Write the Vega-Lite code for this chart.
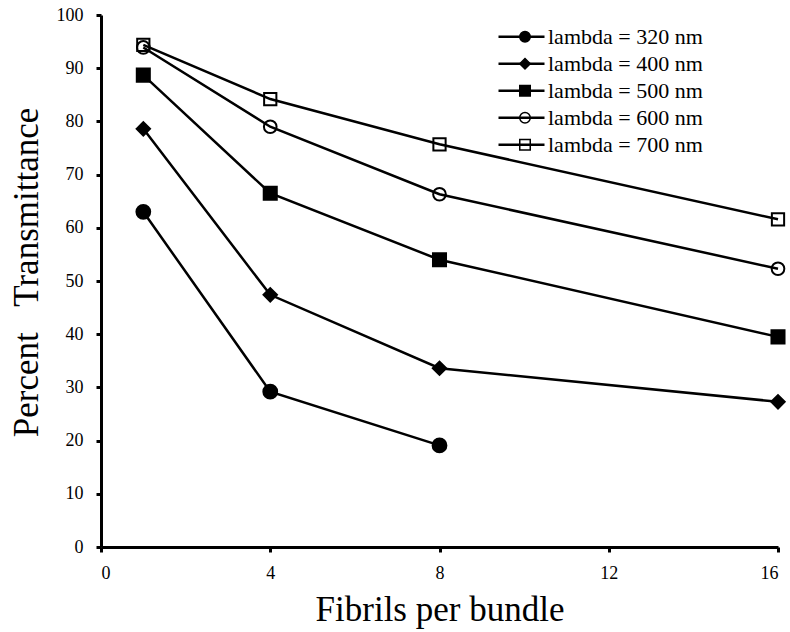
{
  "$schema": "https://vega.github.io/schema/vega-lite/v6.json",
  "width": 677,
  "height": 532,
  "autosize": "none",
  "padding": {"left": 101, "top": 15, "right": 12, "bottom": 85},
  "background": "white",
  "config": {
    "view": {"stroke": null},
    "font": "Liberation Serif",
    "axis": {
      "domainColor": "black",
      "domainWidth": 3,
      "tickColor": "black",
      "tickWidth": 3,
      "tickSize": 5,
      "grid": false,
      "labelFont": "Liberation Serif",
      "labelFontSize": 18,
      "labelColor": "black",
      "titleFont": "Liberation Serif",
      "titleFontSize": 35,
      "titleFontWeight": "normal",
      "titleColor": "black"
    },
    "legend": {
      "labelFont": "Liberation Serif",
      "labelColor": "black",
      "padding": 0
    }
  },
  "data": {
    "values": [
      {"fibrils": 1, "T": 63.0, "series": "lambda = 320 nm", "nm": 320},
      {"fibrils": 4, "T": 29.2, "series": "lambda = 320 nm", "nm": 320},
      {"fibrils": 8, "T": 19.1, "series": "lambda = 320 nm", "nm": 320},
      {"fibrils": 1, "T": 78.6, "series": "lambda = 400 nm", "nm": 400},
      {"fibrils": 4, "T": 47.4, "series": "lambda = 400 nm", "nm": 400},
      {"fibrils": 8, "T": 33.6, "series": "lambda = 400 nm", "nm": 400},
      {"fibrils": 16, "T": 27.3, "series": "lambda = 400 nm", "nm": 400},
      {"fibrils": 1, "T": 88.7, "series": "lambda = 500 nm", "nm": 500},
      {"fibrils": 4, "T": 66.5, "series": "lambda = 500 nm", "nm": 500},
      {"fibrils": 8, "T": 54.0, "series": "lambda = 500 nm", "nm": 500},
      {"fibrils": 16, "T": 39.5, "series": "lambda = 500 nm", "nm": 500},
      {"fibrils": 1, "T": 93.9, "series": "lambda = 600 nm", "nm": 600},
      {"fibrils": 4, "T": 79.0, "series": "lambda = 600 nm", "nm": 600},
      {"fibrils": 8, "T": 66.3, "series": "lambda = 600 nm", "nm": 600},
      {"fibrils": 16, "T": 52.3, "series": "lambda = 600 nm", "nm": 600},
      {"fibrils": 1, "T": 94.4, "series": "lambda = 700 nm", "nm": 700},
      {"fibrils": 4, "T": 84.2, "series": "lambda = 700 nm", "nm": 700},
      {"fibrils": 8, "T": 75.7, "series": "lambda = 700 nm", "nm": 700},
      {"fibrils": 16, "T": 61.6, "series": "lambda = 700 nm", "nm": 700}
    ]
  },
  "encoding": {
    "x": {
      "field": "fibrils",
      "type": "quantitative",
      "scale": {"domain": [0, 16], "nice": false},
      "axis": {"values": [0, 4, 8, 12, 16], "title": "Fibrils per bundle", "titlePadding": 10, "labelPadding": 12, "labelFont": "Liberation Serif", "titleFont": "Liberation Serif"}
    },
    "y": {
      "field": "T",
      "type": "quantitative",
      "scale": {"domain": [0, 100], "nice": false},
      "axis": {"values": [0, 10, 20, 30, 40, 50, 60, 70, 80, 90, 100], "title": "Percent\u00a0\u00a0 Transmittance", "titlePadding": 12, "titleY": 257, "labelPadding": 13, "labelFont": "Liberation Serif", "titleFont": "Liberation Serif"}
    }
  },
  "layer": [
    {
      "mark": {"type": "line", "strokeWidth": 2.5},
      "encoding": {
        "detail": {"field": "series"},
        "color": {
          "field": "nm",
          "type": "nominal",
          "scale": {"range": ["black", "black", "black", "black", "black"]},
          "legend": {
            "orient": "none",
            "legendX": 396,
            "legendY": 8.5,
            "title": null,
            "symbolType": "stroke",
            "symbolSize": 2116,
            "symbolStrokeWidth": 2.5,
            "clipHeight": 26.5,
            "rowPadding": 0,
            "labelExpr": "''",
            "labelFontSize": 22
          }
        }
      }
    },
    {
      "mark": {"type": "point", "filled": false, "strokeWidth": 2, "stroke": "black", "opacity": 1},
      "encoding": {
        "shape": {
          "field": "series",
          "type": "nominal",
          "scale": {"range": ["circle", "diamond", "square", "circle", "square"]},
          "legend": {
            "orient": "none",
            "legendX": 413,
            "legendY": 8.5,
            "title": null,
            "symbolSize": 110,
            "clipHeight": 26.5,
            "rowPadding": 0,
            "labelOffset": 12,
            "labelFontSize": 22,
            "labelFont": "Liberation Serif",
            "encode": {
              "symbols": {
                "update": {
                  "stroke": {"value": "black"},
                  "strokeWidth": {"value": 2}
                }
              }
            }
          }
        },
        "fill": {
          "field": "series",
          "type": "nominal",
          "scale": {"range": ["black", "black", "black", "transparent", "transparent"]}
        },
        "size": {
          "field": "series",
          "type": "nominal",
          "scale": {
            "domain": ["lambda = 320 nm", "lambda = 400 nm", "lambda = 500 nm", "lambda = 600 nm", "lambda = 700 nm"],
            "range": [190, 150, 220, 260, 220]
          },
          "legend": null
        }
      }
    }
  ]
}
